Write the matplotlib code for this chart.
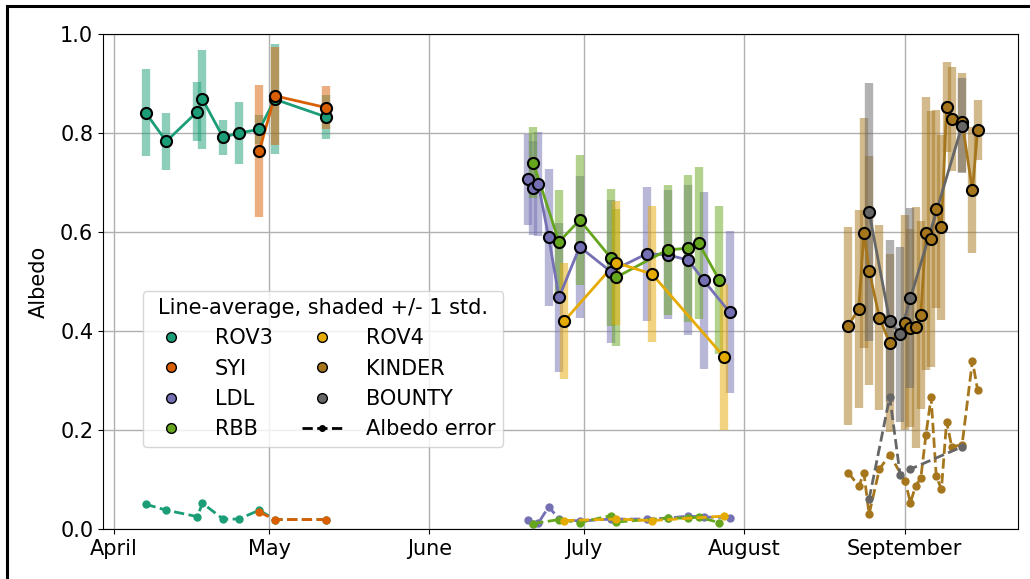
import numpy as np
import pandas as pd
import matplotlib
matplotlib.use("Agg")
import matplotlib.pyplot as plt
import matplotlib.dates as mdates
from matplotlib.lines import Line2D
from matplotlib.patches import Rectangle

# Sites and colours (Dark2)
sites = ["ROV3", "SYI", "LDL", "RBB", "ROV4", "KINDER", "BOUNTY"]
colors = ["#1b9e77", "#d95f02", "#7570b3", "#66a61e", "#e6ab02", "#a6761d", "#666666"]

# Line-average albedo, std and albedo error per site
rov3_dates = ["2020-04-07", "2020-04-11", "2020-04-17", "2020-04-18", "2020-04-22",
              "2020-04-25", "2020-04-29", "2020-05-02", "2020-05-12"]
rov3_mean = [0.841, 0.783, 0.843, 0.868, 0.791, 0.800, 0.807, 0.868, 0.832]
rov3_std = [0.088, 0.058, 0.060, 0.100, 0.036, 0.062, 0.030, 0.111, 0.045]
rov3_err = [0.050, 0.038, 0.025, 0.052, 0.020, 0.020, 0.038, 0.019, 0.019]

syi_dates = ["2020-04-29", "2020-05-02", "2020-05-12"]
syi_mean = [0.764, 0.875, 0.851]
syi_std = [0.133, 0.099, 0.044]
syi_err = [0.034, 0.019, 0.019]

ldl_dates = ["2020-06-20", "2020-06-21", "2020-06-22", "2020-06-24", "2020-06-26",
             "2020-06-30", "2020-07-06", "2020-07-13", "2020-07-17", "2020-07-21",
             "2020-07-24", "2020-07-29"]
ldl_mean = [0.706, 0.688, 0.696, 0.589, 0.468, 0.570, 0.520, 0.556, 0.554, 0.543, 0.502, 0.438]
ldl_std = [0.091, 0.095, 0.105, 0.138, 0.150, 0.144, 0.144, 0.135, 0.130, 0.151, 0.179, 0.164]
ldl_err = [0.018, 0.011, 0.012, 0.045, 0.020, 0.016, 0.020, 0.020, 0.022, 0.026, 0.024, 0.023]

rbb_dates = ["2020-06-21", "2020-06-26", "2020-06-30", "2020-07-06", "2020-07-07",
             "2020-07-17", "2020-07-21", "2020-07-23", "2020-07-27"]
rbb_mean = [0.740, 0.580, 0.624, 0.548, 0.508, 0.564, 0.567, 0.578, 0.503]
rbb_std = [0.071, 0.105, 0.131, 0.138, 0.138, 0.131, 0.149, 0.153, 0.150]
rbb_err = [0.011, 0.019, 0.013, 0.027, 0.014, 0.022, 0.022, 0.024, 0.013]

rov4_dates = ["2020-06-27", "2020-07-07", "2020-07-14", "2020-07-28"]
rov4_mean = [0.420, 0.538, 0.515, 0.347]
rov4_std = [0.117, 0.125, 0.138, 0.148]
rov4_err = [0.017, 0.020, 0.017, 0.026]

kinder_dates = ["2020-08-21", "2020-08-23", "2020-08-24", "2020-08-25", "2020-08-27",
                "2020-08-29", "2020-09-01", "2020-09-02", "2020-09-03", "2020-09-04",
                "2020-09-05", "2020-09-06", "2020-09-07", "2020-09-08", "2020-09-09",
                "2020-09-10", "2020-09-12", "2020-09-14", "2020-09-15"]
kinder_mean = [0.411, 0.445, 0.598, 0.522, 0.427, 0.375, 0.417, 0.405, 0.407, 0.432,
               0.597, 0.586, 0.647, 0.609, 0.853, 0.829, 0.822, 0.684, 0.806]
kinder_std = [0.200, 0.200, 0.232, 0.231, 0.187, 0.180, 0.217, 0.200, 0.244, 0.190,
              0.276, 0.258, 0.200, 0.187, 0.091, 0.105, 0.100, 0.127, 0.061]
kinder_err = [0.114, 0.086, 0.113, 0.030, 0.121, 0.150, 0.096, 0.053, 0.087, 0.102,
              0.190, 0.266, 0.107, 0.080, 0.217, 0.166, 0.170, 0.340, 0.281]

bounty_dates = ["2020-08-25", "2020-08-29", "2020-08-31", "2020-09-02", "2020-09-12"]
bounty_mean = [0.640, 0.420, 0.393, 0.466, 0.815]
bounty_std = [0.260, 0.164, 0.177, 0.182, 0.096]
bounty_err = [0.060, 0.267, 0.110, 0.121, 0.166]

all_dates = [rov3_dates, syi_dates, ldl_dates, rbb_dates, rov4_dates, kinder_dates, bounty_dates]
all_mean = [rov3_mean, syi_mean, ldl_mean, rbb_mean, rov4_mean, kinder_mean, bounty_mean]
all_std = [rov3_std, syi_std, ldl_std, rbb_std, rov4_std, kinder_std, bounty_std]
all_err = [rov3_err, syi_err, ldl_err, rbb_err, rov4_err, kinder_err, bounty_err]

plt.rcParams['font.size'] = 15

fig = plt.figure(figsize=(10.3, 5.79), dpi=100)
ax = fig.add_axes([0.1, 0.0864, 0.888, 0.855])

for name, c, d, m, s, e in zip(sites, colors, all_dates, all_mean, all_std, all_err):
    t = pd.to_datetime(d) + pd.Timedelta(hours=3)
    m = np.array(m)
    s = np.array(s)
    ax.vlines(t, m - s, m + s, color=c, lw=6, alpha=0.5, zorder=2)
    ax.plot(t, m, '-', color=c, lw=2, zorder=3)
    ax.plot(t, m, 'o', color=c, mec='k', mew=1.5, ms=8, zorder=4)
    ax.plot(t, e, '--', color=c, lw=2, marker='o', ms=5, zorder=3)

ax.set_ylim(0, 1)
ax.set_xlim(pd.Timestamp("2020-03-29 21:00"), pd.Timestamp("2020-09-22 21:00"))
ax.set_yticks(np.arange(0, 1.01, 0.2))
ax.xaxis.set_major_locator(mdates.MonthLocator())
ax.xaxis.set_major_formatter(mdates.DateFormatter('%B'))
ax.set_ylabel('Albedo', labelpad=8)
ax.grid(True, color='#b0b0b0', lw=1)
ax.set_axisbelow(True)

handles = []
for name, c in zip(sites, colors):
    handles.append(Line2D([], [], ls='none', marker='o', color=c, mec='k', mew=1, ms=7, label=name))
handles.append(Line2D([], [], ls='--', color='k', lw=2, marker='o', ms=4, label='Albedo error'))
ax.legend(handles=handles, ncol=2, loc='lower left',
          bbox_to_anchor=(0.032, 0.145), title='Line-average, shaded +/- 1 std.',
          fontsize=15, title_fontsize=15, handletextpad=1.1, columnspacing=1.4,
          labelspacing=0.5, borderpad=0.35)

fig.patches.append(Rectangle((7 / 1030, -0.1), 1.2, 1.1 - 6.5 / 579, transform=fig.transFigure,
                             fill=False, ec='k', lw=2.2))

fig.savefig('out.png', dpi=100)
